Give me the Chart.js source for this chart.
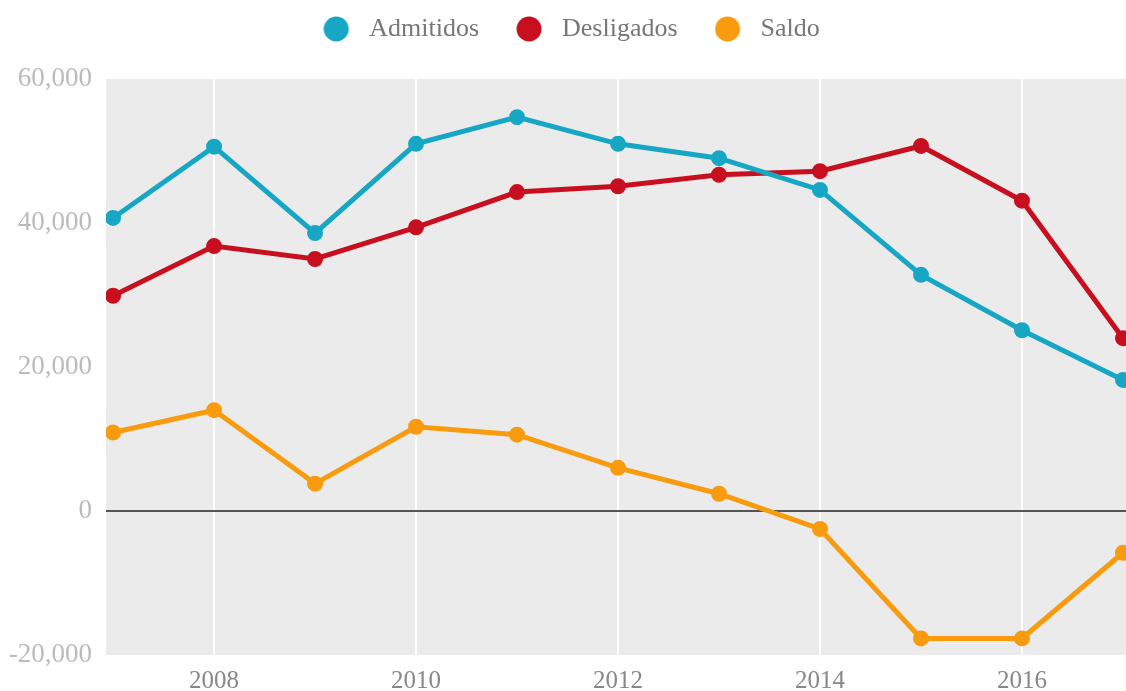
<!DOCTYPE html>
<html>
<head>
<meta charset="utf-8">
<script src="https://cdn.jsdelivr.net/npm/chart.js@4/dist/chart.umd.min.js"></script>
<style>
html,body{margin:0;padding:0;background:#fff;overflow:hidden;}
#wrap{width:1126px;height:691px;}
</style>
</head>
<body>
<div id="wrap"><canvas id="c" width="1126" height="691"></canvas></div>
<script>
const years = [2007, 2008, 2009, 2010, 2011, 2012, 2013, 2014, 2015, 2016, 2017];
const admitidos = [40700, 50600, 38600, 51000, 54700, 51000, 49000, 44600, 32800, 25100, 18200];
const desligados = [29900, 36800, 35000, 39400, 44300, 45100, 46700, 47200, 50700, 43100, 24000];
const saldo = [10900, 14000, 3800, 11700, 10600, 6000, 2400, -2500, -17700, -17700, -5800];
const xTicks = [2008, 2010, 2012, 2014, 2016];
const yTicks = [-20000, 0, 20000, 40000, 60000];

const FONT = "'Liberation Serif', 'DejaVu Serif', serif";
const LEGEND_TOP_SHIFT = -28;

function pts(vals){ return years.map((y,i)=>({x:y, y:vals[i]})); }

// legend marker: a filled circle, drawn a little left of the marker box centre
function marker(color){
  const c = document.createElement('canvas');
  c.width = 40; c.height = 28;
  const g = c.getContext('2d');
  g.fillStyle = color;
  g.beginPath();
  g.arc(13, 14, 12.5, 0, Math.PI * 2);
  g.fill();
  return c;
}

const bgPlugin = {
  id: 'bg',
  beforeLayout(chart){
    const lg = chart.legend;
    if (lg && !lg._patched){
      const f = lg.fit;
      lg.fit = function(){ f.call(this); this.height = 79 - LEGEND_TOP_SHIFT; };
      lg._patched = true;
    }
  },
  afterLayout(chart){
    // nudge the centred legend row slightly right
    if (chart.legend) chart.legend.left += 24;
  },
  beforeDraw(chart){
    const {ctx, chartArea:a} = chart;
    ctx.save();
    ctx.fillStyle = '#ebebeb';
    ctx.fillRect(a.left, a.top, a.right - a.left, a.bottom - a.top);
    ctx.restore();
  }
};

function ds(label, vals, color){
  return {
    label, data: pts(vals),
    borderColor: color, backgroundColor: color,
    pointBackgroundColor: color, pointBorderColor: color,
    borderWidth: 5, pointRadius: 5.5, pointHoverRadius: 6,
    tension: 0
  };
}

new Chart(document.getElementById('c'), {
  type: 'line',
  data: {
    datasets: [
      ds('Admitidos', admitidos, '#17a7c4'),
      ds('Desligados', desligados, '#c80f1f'),
      ds('Saldo', saldo, '#f89b0e')
    ]
  },
  plugins: [bgPlugin],
  options: {
    responsive: false,
    animation: false,
    layout: { autoPadding: false, padding: { top: LEGEND_TOP_SHIFT, left: 0, right: 0, bottom: 0 } },
    plugins: {
      tooltip: { enabled: false },
      legend: {
        display: true,
        position: 'top',
        labels: {
          usePointStyle: true,
          boxWidth: 26, boxHeight: 26,
          padding: 44,
          color: '#777',
          font: { family: FONT, size: 26 },
          generateLabels(chart){
            const items = Chart.defaults.plugins.legend.labels.generateLabels(chart);
            items.forEach(it => {
              const d = chart.data.datasets[it.datasetIndex];
              it.pointStyle = marker(d.borderColor);
              it.fontColor = '#777';
            });
            return items;
          }
        }
      }
    },
    scales: {
      x: {
        type: 'linear',
        min: 2006.93,
        max: 2017.03,
        afterBuildTicks(scale){ scale.ticks = xTicks.map(v=>({value:v})); },
        afterFit(scale){ scale.height = 36; scale.paddingLeft = 0; scale.paddingRight = 0; },
        border: { display: false },
        grid: { color: '#ffffff', lineWidth: 2, drawTicks: false },
        ticks: {
          padding: 11,
          color: '#888',
          font: { family: FONT, size: 25 },
          callback: v => String(v),
          maxRotation: 0
        }
      },
      y: {
        min: -20000,
        max: 60000,
        afterBuildTicks(scale){ scale.ticks = yTicks.map(v=>({value:v})); },
        afterFit(scale){ scale.width = 106; },
        border: { display: false },
        grid: {
          drawTicks: false,
          color: ctx => (ctx.tick && ctx.tick.value === 0) ? '#555555' : 'rgba(0,0,0,0)',
          lineWidth: ctx => (ctx.tick && ctx.tick.value === 0) ? 2 : 0
        },
        ticks: {
          padding: 14,
          color: '#bbb',
          font: { family: FONT, size: 27 },
          callback: v => v.toLocaleString('en-US')
        }
      }
    }
  }
});
</script>
</body>
</html>
